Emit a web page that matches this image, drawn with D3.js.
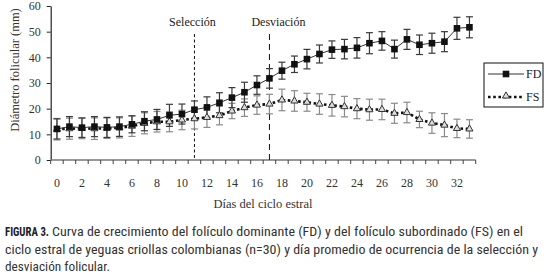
<!DOCTYPE html>
<html>
<head>
<meta charset="utf-8">
<script src="https://cdn.jsdelivr.net/npm/d3@7"></script>
<style>
  body { margin: 0; background: #fff; }
  svg { display: block; }
</style>
</head>
<body>
<svg id="chart" width="551" height="276"></svg>
<script>
"use strict";

// data
const days = d3.range(0, 34);
const fdMean = [12.1, 13.0, 12.6, 13.0, 12.7, 13.0, 13.9, 15.1, 15.8, 17.4, 17.9, 19.6,
                20.5, 22.3, 24.3, 26.4, 29.2, 31.8, 34.8, 37.3, 39.3, 41.3, 43.0, 43.2,
                43.7, 45.5, 46.4, 43.2, 47.0, 44.9, 45.5, 46.1, 51.3, 51.7];
const fdErr  = [3.9, 3.9, 3.8, 3.9, 3.9, 3.8, 3.3, 3.7, 3.9, 4.3, 3.9, 3.4,
                4.1, 3.9, 3.9, 3.9, 3.6, 3.8, 3.3, 3.2, 3.8, 3.5, 3.4, 3.8,
                4.0, 4.1, 3.6, 3.5, 3.9, 3.8, 3.9, 3.9, 4.3, 4.1];
const fsMean = [12.0, 12.2, 12.3, 12.2, 12.4, 12.5, 13.2, 14.3, 14.9, 14.9, 15.6, 16.1,
                16.6, 17.3, 19.1, 20.4, 21.4, 21.8, 23.4, 23.0, 22.5, 21.8, 21.3, 20.8,
                20.0, 19.6, 19.7, 18.2, 18.5, 15.8, 14.4, 13.6, 12.3, 12.1];
const fsErr  = [4.2, 4.1, 4.0, 4.2, 4.0, 3.9, 4.0, 4.1, 4.0, 3.9, 3.8, 4.0,
                3.9, 3.6, 3.0, 3.4, 3.6, 3.8, 4.2, 4.0, 3.5, 4.0, 4.2, 4.0,
                3.9, 4.1, 4.0, 3.9, 4.0, 3.2, 4.0, 4.5, 3.6, 3.6];
const yTicks = [0, 10, 20, 30, 40, 50, 60];
const xTickLabels = d3.range(0, 33, 2);
const events = [{day: 11, label: "Selección", dash: "3,2.5", dx: -2},
                {day: 17, label: "Desviación", dash: "6,4", dx: 9}];
const captionLines = [
  "Curva de crecimiento del folículo dominante (FD) y del folículo subordinado (FS) en el",
  "ciclo estral de yeguas criollas colombianas (n=30) y día promedio de ocurrencia de la selección y",
  "desviación folicular."
];

const serif = "'Liberation Serif', 'DejaVu Serif', serif";
const sans = "'Liberation Sans Narrow', 'Roboto Condensed', 'Liberation Sans', sans-serif";

const svg = d3.select("#chart");

// scales
const x = d3.scaleBand().domain(days).range([50.7, 475.7]).padding(0);
const cx = d => x(d) + x.bandwidth() / 2;
const y = d3.scaleLinear().domain([0, 60]).range([160, 6]);

// y axis
const yAxis = svg.append("g")
  .attr("transform", `translate(${x.range()[0]},0)`)
  .call(d3.axisLeft(y).tickValues(yTicks).tickSize(4).tickPadding(6).tickSizeOuter(0));
yAxis.select(".domain").attr("stroke", "#222").attr("stroke-width", 1.2);
yAxis.selectAll(".tick line").attr("stroke", "#222");
yAxis.selectAll(".tick text")
  .attr("font-family", serif).attr("font-size", 12).attr("fill", "#333");

svg.append("text")
  .attr("transform", `translate(19,70) rotate(-90)`)
  .attr("text-anchor", "middle")
  .attr("font-family", serif).attr("font-size", 12.5).attr("fill", "#333")
  .text("Diámetro folicular (mm)");

// x axis
const xg = svg.append("g").attr("class", "x_axis");
xg.append("line")
  .attr("x1", x.range()[0]).attr("x2", x.range()[1])
  .attr("y1", y(0)).attr("y2", y(0))
  .attr("stroke", "#777").attr("stroke-width", 1.6);
xg.selectAll("line.tk")
  .data(days.map(d => x(d)).concat([x.range()[1]]))
  .enter().append("line")
  .attr("class", "tk")
  .attr("x1", d => d).attr("x2", d => d)
  .attr("y1", y(0)).attr("y2", y(0) + 4)
  .attr("stroke", "#444").attr("stroke-width", 1);
xg.selectAll("text")
  .data(xTickLabels)
  .enter().append("text")
  .attr("x", d => cx(d)).attr("y", 187)
  .attr("text-anchor", "middle")
  .attr("font-family", serif).attr("font-size", 12).attr("fill", "#333")
  .text(d => d);

svg.append("text")
  .attr("x", 263).attr("y", 208)
  .attr("text-anchor", "middle")
  .attr("font-family", serif).attr("font-size", 12.5).attr("fill", "#333")
  .text("Días del ciclo estral");

// event lines
events.forEach(e => {
  svg.append("line")
    .attr("x1", cx(e.day)).attr("x2", cx(e.day))
    .attr("y1", 34).attr("y2", y(0))
    .attr("stroke", "#111").attr("stroke-width", 1)
    .attr("stroke-dasharray", e.dash);
  svg.append("text")
    .attr("x", cx(e.day) + e.dx).attr("y", 26)
    .attr("text-anchor", "middle")
    .attr("font-family", serif).attr("font-size", 12).attr("fill", "#222")
    .text(e.label);
});

// error bars
function errorBars(mean, err, color) {
  const g = svg.append("g");
  days.forEach((d, i) => {
    const x0 = cx(d), y1 = y(mean[i] + err[i]), y2 = y(mean[i] - err[i]);
    g.append("line").attr("x1", x0).attr("x2", x0).attr("y1", y1).attr("y2", y2)
      .attr("stroke", color).attr("stroke-width", 1.2);
    [y1, y2].forEach(v => {
      g.append("line").attr("x1", x0 - 3.5).attr("x2", x0 + 3.5).attr("y1", v).attr("y2", v)
        .attr("stroke", color).attr("stroke-width", 1.2);
    });
  });
}
errorBars(fsMean, fsErr, "#8a8a8a");
errorBars(fdMean, fdErr, "#3a3a3a");

// lines
const lineFD = d3.line().x((d, i) => cx(days[i])).y(d => y(d));
svg.append("path")
  .attr("d", lineFD(fsMean))
  .attr("fill", "none").attr("stroke", "#111")
  .attr("stroke-width", 2.6).attr("stroke-dasharray", "2.6,2.6");
svg.append("path")
  .attr("d", lineFD(fdMean))
  .attr("fill", "none").attr("stroke", "#333").attr("stroke-width", 1);

// markers
const tri = d3.symbol().type(d3.symbolTriangle).size(22);
svg.selectAll("path.fs")
  .data(fsMean)
  .enter().append("path")
  .attr("class", "fs")
  .attr("d", tri)
  .attr("transform", (d, i) => `translate(${cx(days[i])},${y(d)})`)
  .attr("fill", "#ddd").attr("stroke", "#333").attr("stroke-width", 1);
svg.selectAll("rect.fd")
  .data(fdMean)
  .enter().append("rect")
  .attr("class", "fd")
  .attr("x", (d, i) => cx(days[i]) - 3.3)
  .attr("y", d => y(d) - 3.3)
  .attr("width", 6.6).attr("height", 6.6)
  .attr("fill", "#111");

// legend
const lg = svg.append("g").attr("transform", "translate(484,63)");
lg.append("rect").attr("x", 0).attr("y", 0).attr("width", 59).attr("height", 44)
  .attr("fill", "#fff").attr("stroke", "#111").attr("stroke-width", 1);
lg.append("line").attr("x1", 4).attr("x2", 40).attr("y1", 11).attr("y2", 11)
  .attr("stroke", "#333").attr("stroke-width", 1);
lg.append("rect").attr("x", 18.7).attr("y", 7.7).attr("width", 6.6).attr("height", 6.6).attr("fill", "#111");
lg.append("line").attr("x1", 4).attr("x2", 40).attr("y1", 34).attr("y2", 34)
  .attr("stroke", "#111").attr("stroke-width", 2.6).attr("stroke-dasharray", "2.6,2.6");
lg.append("path").attr("d", tri).attr("transform", "translate(22,33)")
  .attr("fill", "#ddd").attr("stroke", "#333").attr("stroke-width", 1);
[["FD", 15], ["FS", 38]].forEach(([t, yy]) => {
  lg.append("text").attr("x", 42).attr("y", yy)
    .attr("font-family", serif).attr("font-size", 12).attr("fill", "#222")
    .text(t);
});

// caption
const cap = svg.append("g").attr("fill", "#333").attr("font-family", sans).attr("font-size", 12.5);
cap.append("text").attr("x", 5).attr("y", 236)
  .attr("font-weight", "bold").attr("fill", "#222")
  .attr("textLength", 44).attr("lengthAdjust", "spacingAndGlyphs")
  .text("FIGURA 3.");
cap.append("text").attr("x", 52).attr("y", 236)
  .attr("textLength", 471).attr("lengthAdjust", "spacingAndGlyphs")
  .text(captionLines[0]);
cap.append("text").attr("x", 5).attr("y", 253.5)
  .attr("textLength", 533).attr("lengthAdjust", "spacingAndGlyphs")
  .text(captionLines[1]);
cap.append("text").attr("x", 5).attr("y", 271)
  .attr("textLength", 105).attr("lengthAdjust", "spacingAndGlyphs")
  .text(captionLines[2]);
</script>
</body>
</html>
